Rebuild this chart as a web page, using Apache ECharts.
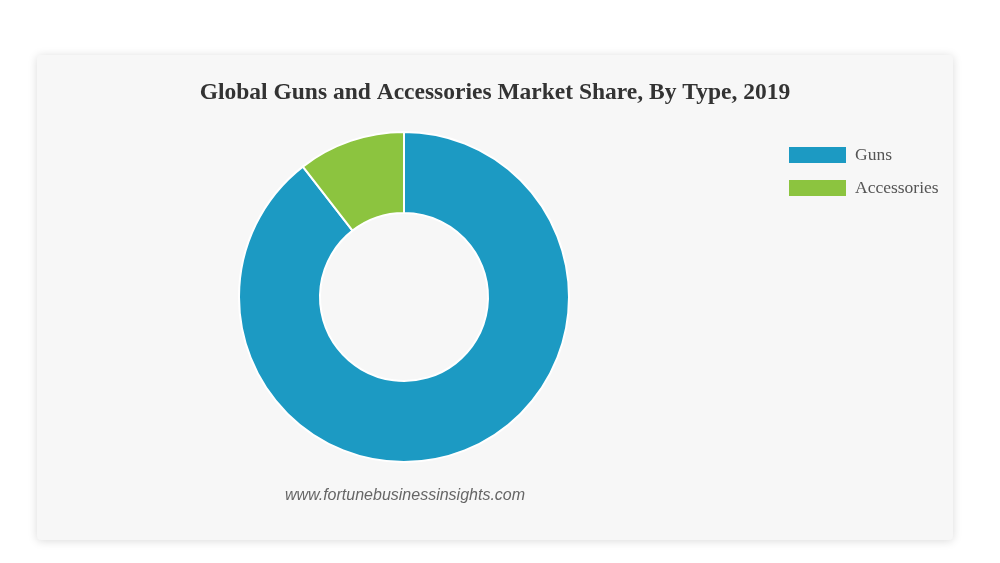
<!DOCTYPE html>
<html>
<head>
<meta charset="utf-8">
<script src="https://cdn.jsdelivr.net/npm/echarts@6/dist/echarts.min.js"></script>
<style>
  html, body { margin: 0; padding: 0; background: #ffffff; width: 1000px; height: 563px; overflow: hidden; }
  #card { position: absolute; left: 37px; top: 55px; width: 916px; height: 485px; background: #f7f7f7; border-radius: 4px; box-shadow: 0 1px 10px rgba(0,0,0,0.15); }
  #chart { width: 916px; height: 485px; }
</style>
</head>
<body>
<div id="card"><div id="chart"></div></div>
<script>
const titleText = 'Global Guns and Accessories Market Share, By Type, 2019';
const categories = ['Guns', 'Accessories'];
const shares = [89.5, 10.5];
const colors = ['#1c9ac3', '#8cc43f'];
const watermark = 'www.fortunebusinessinsights.com';

const chart = echarts.init(document.getElementById('chart'));
chart.setOption({
  animation: false,
  backgroundColor: 'transparent',
  color: colors,
  title: {
    text: titleText,
    left: 'center',
    top: 21,
    textStyle: { fontFamily: 'Liberation Serif', fontWeight: 'bold', fontSize: 23.5, color: '#333333' }
  },
  legend: {
    orient: 'vertical',
    left: 747,
    top: 86,
    itemWidth: 57,
    itemHeight: 16,
    itemGap: 15,
    icon: 'rect',
    itemStyle: { borderWidth: 0 },
    textStyle: { fontFamily: 'Liberation Serif', fontSize: 17.5, color: '#555555', padding: [0, 0, 0, 4] },
    data: categories
  },
  graphic: [{
    type: 'text',
    x: 368,
    y: 441,
    style: { text: watermark, font: 'italic 16px "Liberation Sans", Arial, sans-serif', fill: '#666666', textAlign: 'center', textVerticalAlign: 'middle' }
  }],
  series: [{
    type: 'pie',
    center: [367, 242],
    radius: [84, 165],
    startAngle: 90,
    clockwise: true,
    label: { show: false },
    labelLine: { show: false },
    itemStyle: { borderColor: '#ffffff', borderWidth: 2 },
    data: categories.map((c, i) => ({ name: c, value: shares[i] }))
  }]
});
</script>
</body>
</html>
